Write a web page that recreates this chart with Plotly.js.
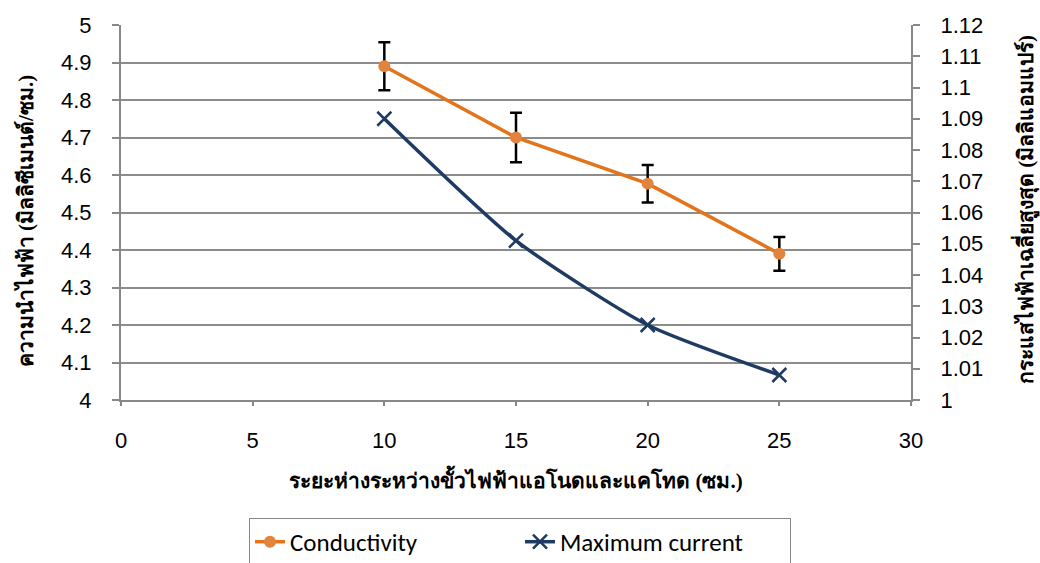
<!DOCTYPE html>
<html><head><meta charset="utf-8">
<script src="https://cdn.plot.ly/plotly-3.0.1.min.js"></script>
<style>body{margin:0;background:#fff}#c{width:1040px;height:563px}</style>
</head><body><div id="c"></div>
<script>
const distance = [10, 15, 20, 25];
const conductivity = [4.89, 4.70, 4.577, 4.39];
const conductivityErr = [0.064, 0.066, 0.05, 0.045];
const maxCurrent = [1.090, 1.051, 1.024, 1.008];
const xTitle = 'ระยะห่างระหว่างขั้วไฟฟ้าแอโนดและแคโทด (ซม.)';
const y1Title = 'ความนำไฟฟ้า (มิลลิซีเมนต์/ซม.)';
const y2Title = 'กระแสไฟฟ้าเฉลี่ยสูงสุด (มิลลิแอมแปร์)';

function tickFont() { return {family: 'Liberation Sans', size: 22, color: '#000'}; }
function titleFont() { return {family: 'Liberation Serif', size: 21, color: '#000', weight: 'bold'}; }

const traces = [
  {x: distance, y: conductivity, name: 'Conductivity', type: 'scatter', mode: 'lines+markers',
   line: {color: '#E3741C', width: 3.5}, marker: {color: '#E0843F', size: 12},
   error_y: {type: 'data', array: conductivityErr, visible: true, color: '#000', thickness: 2.5, width: 6}},
  {x: distance, y: maxCurrent, name: 'Maximum current', type: 'scatter', mode: 'lines+markers', yaxis: 'y2',
   line: {color: '#1F3A63', width: 3.5, shape: 'spline', smoothing: 0.6},
   marker: {symbol: 'x-thin-open', size: 14, line: {color: '#1F3A63', width: 2.5}, color: '#1F3A63'}}
];

const layout = {
  width: 1040, height: 563,
  margin: {l: 121, r: 129, t: 25, b: 163},
  paper_bgcolor: '#fff', plot_bgcolor: '#fff',
  font: {family: 'Liberation Sans', size: 22, color: '#000'},
  showlegend: true,
  legend: {orientation: 'h', x: 0.5, xref: 'container', xanchor: 'center', y: 0.08, yref: 'container', yanchor: 'top',
    font: {family: 'Carlito, Lato, sans-serif', size: 25, color: '#000'},
    bordercolor: '#888', borderwidth: 1, entrywidth: 225},
  xaxis: {range: [0, 30], dtick: 5, tick0: 0, showgrid: false, zeroline: false,
    showline: true, linecolor: '#888', linewidth: 2, ticks: 'outside', ticklen: 4, tickcolor: '#888', tickwidth: 2,
    tickfont: tickFont(), ticklabelstandoff: 16,
    title: {text: xTitle, font: titleFont(), standoff: 21}},
  yaxis: {range: [4, 5], dtick: 0.1, tick0: 4, showgrid: true, gridcolor: '#8c8c8c', gridwidth: 2, zeroline: false,
    showline: true, linecolor: '#888', linewidth: 2, ticks: 'outside', ticklen: 7, tickcolor: '#888', tickwidth: 2,
    tickfont: tickFont(), ticklabelstandoff: 16},
  yaxis2: {range: [1, 1.12], dtick: 0.01, tick0: 1, overlaying: 'y', side: 'right', showgrid: false, zeroline: false,
    showline: true, linecolor: '#888', linewidth: 2, ticks: 'outside', ticklen: 7, tickcolor: '#888', tickwidth: 2,
    tickfont: tickFont(), ticklabelstandoff: 16},
  annotations: [
    {text: y1Title, xref: 'paper', yref: 'paper', x: -0.1215, y: 0.477, xanchor: 'center', yanchor: 'middle',
     textangle: -90, showarrow: false, font: titleFont()},
    {text: y2Title, xref: 'paper', yref: 'paper', x: 1.1443, y: 0.509, xanchor: 'center', yanchor: 'middle',
     textangle: -90, showarrow: false, font: titleFont()}
  ]
};
Plotly.newPlot('c', traces, layout, {displayModeBar: false});
</script></body></html>
